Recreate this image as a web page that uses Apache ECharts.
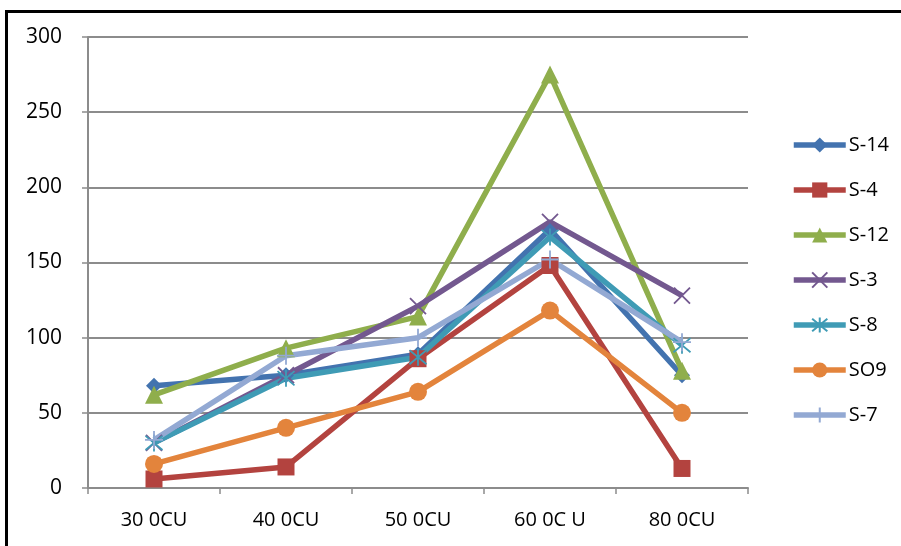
<!DOCTYPE html>
<html>
<head>
<meta charset="utf-8">
<script src="https://cdn.jsdelivr.net/npm/echarts@6/dist/echarts.min.js"></script>
<style>
html,body{margin:0;padding:0;background:#fff;}
#chart{width:901px;height:546px;}
</style>
</head>
<body>
<div id="chart"></div>
<script>
const categories = ['30 0CU', '40 0CU', '50 0CU', '60 0C U', '80 0CU'];
const seriesNames = ['S-14', 'S-4', 'S-12', 'S-3', 'S-8', 'SO9', 'S-7'];
const s14 = [68, 75, 89, 172, 75];
const s4 = [6, 14, 86, 148, 13];
const s12 = [62, 93, 114, 275, 78];
const s3 = [30, 75, 121, 177, 128];
const s8 = [30, 73, 87, 167, 95];
const so9 = [16, 40, 64, 118, 50];
const s7 = [32, 88, 100, 152, 97];
const yTicks = [0, 50, 100, 150, 200, 250, 300];

const seriesData = [s14, s4, s12, s3, s8, so9, s7];
const colors = ['#4373AF', '#B3433F', '#8FAE4C', '#73588F', '#3F9BB5', '#E3843C', '#93A9D3'];
const symbols = [
  'diamond', 'rect', 'triangle',
  'path://M0,0L10,10M10,0L0,10',
  'path://M0,0L10,10M10,0L0,10M5,-1L5,11',
  'circle',
  'path://M5,0L5,10M0,5L10,5'
];
const symbolSizes = [16, 17, 18, 16, 17, 18, 18];
const strokeOnly = [false, false, false, true, true, false, true];

const chart = echarts.init(document.getElementById('chart'));
const font = 'Open Sans, Liberation Sans, sans-serif';

const series = seriesNames.map((name, i) => ({
  name: name,
  type: 'line',
  data: seriesData[i],
  symbol: symbols[i],
  symbolSize: symbolSizes[i],
  showAllSymbol: true,
  lineStyle: { color: colors[i], width: 5.5 },
  itemStyle: strokeOnly[i]
    ? { color: colors[i], borderColor: colors[i], borderWidth: 1.8 }
    : { color: colors[i], borderColor: colors[i], borderWidth: 0 },
  emphasis: { disabled: true },
  animation: false
}));

chart.setOption({
  animation: false,
  backgroundColor: '#ffffff',
  graphic: [{
    type: 'rect',
    shape: { x: 6.5, y: 11.5, width: 1000, height: 1000 },
    style: { fill: 'none', stroke: '#000', lineWidth: 3 },
    silent: true,
    z: 100
  }],
  grid: { left: 88, right: 153, top: 37, bottom: 58, containLabel: false },
  legend: {
    orient: 'vertical',
    left: 786,
    top: 130,
    itemWidth: 52,
    itemHeight: 19,
    itemGap: 25,
    data: seriesNames,
    lineStyle: { width: 5.5 },
    textStyle: { fontFamily: font, fontSize: 20, color: '#000', padding: [0, 0, 0, -2] }
  },
  xAxis: {
    type: 'category',
    data: categories,
    boundaryGap: true,
    axisLine: { show: true, lineStyle: { color: '#8c8c8c', width: 2 } },
    axisTick: { show: true, alignWithLabel: false, length: 6, lineStyle: { color: '#8c8c8c', width: 1.5 } },
    axisLabel: { margin: 22, fontFamily: font, fontSize: 20, color: '#000' },
    splitLine: { show: false }
  },
  yAxis: {
    type: 'value',
    min: 0,
    max: 300,
    interval: 50,
    axisLine: { show: true, lineStyle: { color: '#8c8c8c', width: 2 } },
    axisTick: { show: true, length: 6, lineStyle: { color: '#8c8c8c', width: 1.5 } },
    axisLabel: {
      margin: 26, fontFamily: font, fontSize: 21, color: '#000',
      formatter: v => (yTicks.indexOf(v) >= 0 ? String(v) : '')
    },
    splitLine: { show: true, lineStyle: { color: '#8c8c8c', width: 2 } }
  },
  series: series
});
</script>
</body>
</html>
